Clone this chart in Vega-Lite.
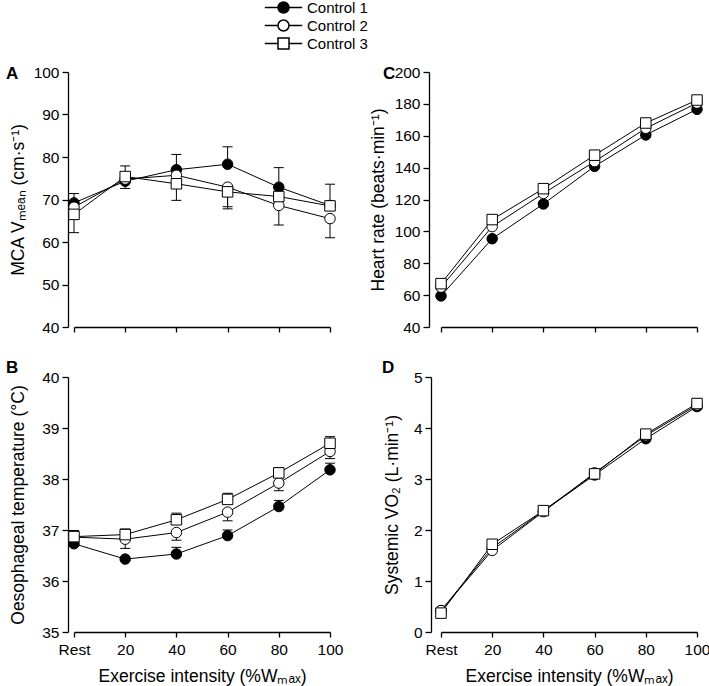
{
  "$schema": "https://vega.github.io/schema/vega-lite/v6.json",
  "background": "white",
  "padding": {"left": 6, "top": 0, "right": 5, "bottom": 5},
  "datasets": {
    "d": [
      {"p": "A", "s": "Control 1", "x": 0, "y": 69.2, "lo": 69.2, "hi": 71.4},
      {"p": "A", "s": "Control 1", "x": 20, "y": 74.3, "lo": 72.6, "hi": 74.3},
      {"p": "A", "s": "Control 1", "x": 40, "y": 77.0, "lo": 77.0, "hi": 80.6},
      {"p": "A", "s": "Control 1", "x": 60, "y": 78.3, "lo": 78.3, "hi": 82.4},
      {"p": "A", "s": "Control 1", "x": 80, "y": 72.9, "lo": 72.9, "hi": 77.5},
      {"p": "A", "s": "Control 1", "x": 100, "y": 68.6, "lo": 68.6, "hi": 73.6},
      {"p": "A", "s": "Control 2", "x": 0, "y": 68.2},
      {"p": "A", "s": "Control 2", "x": 20, "y": 74.8},
      {"p": "A", "s": "Control 2", "x": 40, "y": 75.7},
      {"p": "A", "s": "Control 2", "x": 60, "y": 72.9, "lo": 68.3, "hi": 72.9},
      {"p": "A", "s": "Control 2", "x": 80, "y": 68.6, "lo": 64.0, "hi": 68.6},
      {"p": "A", "s": "Control 2", "x": 100, "y": 65.5, "lo": 61.0, "hi": 65.5},
      {"p": "A", "s": "Control 3", "x": 0, "y": 66.5, "lo": 62.2, "hi": 66.5},
      {"p": "A", "s": "Control 3", "x": 20, "y": 75.4, "lo": 75.4, "hi": 77.9},
      {"p": "A", "s": "Control 3", "x": 40, "y": 73.7, "lo": 69.8, "hi": 73.7},
      {"p": "A", "s": "Control 3", "x": 60, "y": 71.8, "lo": 67.8, "hi": 71.8},
      {"p": "A", "s": "Control 3", "x": 80, "y": 70.7},
      {"p": "A", "s": "Control 3", "x": 100, "y": 68.5},

      {"p": "C", "s": "Control 1", "x": 0, "y": 59.5},
      {"p": "C", "s": "Control 1", "x": 20, "y": 95.4},
      {"p": "C", "s": "Control 1", "x": 40, "y": 117.2},
      {"p": "C", "s": "Control 1", "x": 60, "y": 140.8},
      {"p": "C", "s": "Control 1", "x": 80, "y": 160.5},
      {"p": "C", "s": "Control 1", "x": 100, "y": 176.6},
      {"p": "C", "s": "Control 2", "x": 0, "y": 65.0},
      {"p": "C", "s": "Control 2", "x": 20, "y": 103.0},
      {"p": "C", "s": "Control 2", "x": 40, "y": 123.8},
      {"p": "C", "s": "Control 2", "x": 60, "y": 143.8},
      {"p": "C", "s": "Control 2", "x": 80, "y": 164.7},
      {"p": "C", "s": "Control 2", "x": 100, "y": 180.5},
      {"p": "C", "s": "Control 3", "x": 0, "y": 67.2},
      {"p": "C", "s": "Control 3", "x": 20, "y": 107.4},
      {"p": "C", "s": "Control 3", "x": 40, "y": 126.8},
      {"p": "C", "s": "Control 3", "x": 60, "y": 147.8},
      {"p": "C", "s": "Control 3", "x": 80, "y": 168.0},
      {"p": "C", "s": "Control 3", "x": 100, "y": 182.4},

      {"p": "B", "s": "Control 1", "x": 0, "y": 36.73},
      {"p": "B", "s": "Control 1", "x": 20, "y": 36.43},
      {"p": "B", "s": "Control 1", "x": 40, "y": 36.53, "lo": 36.53, "hi": 36.66},
      {"p": "B", "s": "Control 1", "x": 60, "y": 36.89, "lo": 36.89, "hi": 37.0},
      {"p": "B", "s": "Control 1", "x": 80, "y": 37.46, "lo": 37.46, "hi": 37.58},
      {"p": "B", "s": "Control 1", "x": 100, "y": 38.18, "lo": 38.18, "hi": 38.31},
      {"p": "B", "s": "Control 2", "x": 0, "y": 36.86},
      {"p": "B", "s": "Control 2", "x": 20, "y": 36.82, "lo": 36.64, "hi": 36.82},
      {"p": "B", "s": "Control 2", "x": 40, "y": 36.95, "lo": 36.8, "hi": 36.95},
      {"p": "B", "s": "Control 2", "x": 60, "y": 37.35, "lo": 37.18, "hi": 37.35},
      {"p": "B", "s": "Control 2", "x": 80, "y": 37.92, "lo": 37.77, "hi": 37.92},
      {"p": "B", "s": "Control 2", "x": 100, "y": 38.54, "lo": 38.4, "hi": 38.54},
      {"p": "B", "s": "Control 3", "x": 0, "y": 36.87, "lo": 36.87, "hi": 36.99},
      {"p": "B", "s": "Control 3", "x": 20, "y": 36.91, "lo": 36.91, "hi": 37.02},
      {"p": "B", "s": "Control 3", "x": 40, "y": 37.2, "lo": 37.2, "hi": 37.33},
      {"p": "B", "s": "Control 3", "x": 60, "y": 37.6, "lo": 37.6, "hi": 37.72},
      {"p": "B", "s": "Control 3", "x": 80, "y": 38.12, "lo": 38.12, "hi": 38.22},
      {"p": "B", "s": "Control 3", "x": 100, "y": 38.7, "lo": 38.7, "hi": 38.83},

      {"p": "D", "s": "Control 1", "x": 0, "y": 0.42},
      {"p": "D", "s": "Control 1", "x": 20, "y": 1.65},
      {"p": "D", "s": "Control 1", "x": 40, "y": 2.37},
      {"p": "D", "s": "Control 1", "x": 60, "y": 3.08},
      {"p": "D", "s": "Control 1", "x": 80, "y": 3.79},
      {"p": "D", "s": "Control 1", "x": 100, "y": 4.42, "lo": 4.36, "hi": 4.42},
      {"p": "D", "s": "Control 2", "x": 0, "y": 0.42},
      {"p": "D", "s": "Control 2", "x": 20, "y": 1.60},
      {"p": "D", "s": "Control 2", "x": 40, "y": 2.36},
      {"p": "D", "s": "Control 2", "x": 60, "y": 3.12},
      {"p": "D", "s": "Control 2", "x": 80, "y": 3.85},
      {"p": "D", "s": "Control 2", "x": 100, "y": 4.45},
      {"p": "D", "s": "Control 3", "x": 0, "y": 0.37},
      {"p": "D", "s": "Control 3", "x": 20, "y": 1.72},
      {"p": "D", "s": "Control 3", "x": 40, "y": 2.38},
      {"p": "D", "s": "Control 3", "x": 60, "y": 3.10},
      {"p": "D", "s": "Control 3", "x": 80, "y": 3.88},
      {"p": "D", "s": "Control 3", "x": 100, "y": 4.48, "lo": 4.48, "hi": 4.57}
    ]
  },
  "config": {
    "font": "Liberation Sans",
    "view": {"stroke": null},
    "axis": {
      "grid": false, "domainColor": "black", "tickColor": "black", "labelColor": "black", "titleColor": "black",
      "labelFontSize": 15.5, "titleFontSize": 17.5, "titleFontWeight": "normal",
      "domainWidth": 1.3, "tickWidth": 1.3, "labelPadding": 3, "labelFlush": false, "labelOverlap": false, "labelBound": false
    },
    "axisY": {"tickSize": 6},
    "axisX": {"tickSize": 5},
    "title": {"fontSize": 17, "fontWeight": "bold", "color": "black", "anchor": "start", "frame": "group", "baseline": "middle", "offset": 0},
    "legend": {"labelFontSize": 15, "labelColor": "black"}
  },
  "columns": 2,
  "spacing": {"row": 50, "column": 111},
  "bounds": "flush",
  "concat": [
    {
      "width": 256, "height": 255,
      "data": {"name": "d"},
      "transform": [{"filter": "datum.p === 'A'"}],
      "title": {"text": "A", "dx": -68, "dy": 22},
      "encoding": {
        "x": {"field": "x", "type": "quantitative", "scale": {"domain": [0, 100], "nice": false}, "axis": {"values": [0, 20, 40, 60, 80, 100], "labels": false, "title": null}}
      },
      "layer": [
        {"mark": {"type": "line", "color": "black", "strokeWidth": 1},
         "encoding": {"y": {"field": "y", "type": "quantitative", "title": "MCA Vₘₑₐₙ (cm·s⁻¹)", "scale": {"domain": [40, 100], "nice": false, "zero": false}, "axis": {"values": [40, 50, 60, 70, 80, 90, 100], "offset": 6, "titleX": -50, "titleBaseline": "middle"}}, "detail": {"field": "s"}}},
        {"transform": [{"filter": "isValid(datum.lo)"}], "mark": {"type": "rule", "color": "black", "strokeWidth": 1},
         "encoding": {"y": {"field": "lo", "type": "quantitative", "title": "MCA Vₘₑₐₙ (cm·s⁻¹)", "scale": {"domain": [40, 100], "nice": false, "zero": false}, "axis": {"values": [40, 50, 60, 70, 80, 90, 100], "offset": 6, "titleX": -50, "titleBaseline": "middle"}}, "y2": {"field": "hi"}}},
        {"transform": [{"filter": "isValid(datum.hi)"}], "mark": {"type": "point", "shape": "stroke", "size": 100, "stroke": "black", "strokeWidth": 1, "opacity": 1, "filled": false},
         "encoding": {"y": {"field": "hi", "type": "quantitative", "title": "MCA Vₘₑₐₙ (cm·s⁻¹)", "scale": {"domain": [40, 100], "nice": false, "zero": false}, "axis": {"values": [40, 50, 60, 70, 80, 90, 100], "offset": 6, "titleX": -50, "titleBaseline": "middle"}}}},
        {"transform": [{"filter": "isValid(datum.lo)"}], "mark": {"type": "point", "shape": "stroke", "size": 100, "stroke": "black", "strokeWidth": 1, "opacity": 1, "filled": false},
         "encoding": {"y": {"field": "lo", "type": "quantitative", "title": "MCA Vₘₑₐₙ (cm·s⁻¹)", "scale": {"domain": [40, 100], "nice": false, "zero": false}, "axis": {"values": [40, 50, 60, 70, 80, 90, 100], "offset": 6, "titleX": -50, "titleBaseline": "middle"}}}},
        {"transform": [{"filter": "datum.s !== 'Control 3'"}], "mark": {"type": "point", "shape": "circle", "size": 110, "stroke": "black", "strokeWidth": 1, "opacity": 1, "filled": true},
         "encoding": {
           "y": {"field": "y", "type": "quantitative", "title": "MCA Vₘₑₐₙ (cm·s⁻¹)", "scale": {"domain": [40, 100], "nice": false, "zero": false}, "axis": {"values": [40, 50, 60, 70, 80, 90, 100], "offset": 6, "titleX": -50, "titleBaseline": "middle"}},
           "fill": {"field": "s", "type": "nominal", "title": null, "scale": {"domain": ["Control 1", "Control 2", "Control 3"], "range": ["black", "white", "white"]},
             "legend": {"title": null, "orient": "none", "legendX": 202, "legendY": -72, "padding": 0, "labelOffset": 16, "rowPadding": 1, "symbolSize": 121, "encode": {"symbols": {"stroke": {"value": "black"}, "strokeWidth": {"value": 1}}}}}
         }},
        {"transform": [{"filter": "datum.s === 'Control 3'"}], "mark": {"type": "point", "shape": "square", "size": 110, "stroke": "black", "strokeWidth": 1, "opacity": 1, "filled": true},
         "encoding": {
           "y": {"field": "y", "type": "quantitative", "title": "MCA Vₘₑₐₙ (cm·s⁻¹)", "scale": {"domain": [40, 100], "nice": false, "zero": false}, "axis": {"values": [40, 50, 60, 70, 80, 90, 100], "offset": 6, "titleX": -50, "titleBaseline": "middle"}},
           "fill": {"field": "s", "type": "nominal", "title": null, "scale": {"domain": ["Control 1", "Control 2", "Control 3"], "range": ["black", "white", "white"]},
             "legend": {"title": null, "orient": "none", "legendX": 202, "legendY": -72, "padding": 0, "labelOffset": 16, "rowPadding": 1, "symbolSize": 121, "encode": {"symbols": {"stroke": {"value": "black"}, "strokeWidth": {"value": 1}}}}}
         }},
        {"transform": [{"filter": "false"}], "mark": {"type": "point", "size": 121, "stroke": "black", "strokeWidth": 1, "opacity": 1, "filled": true},
         "encoding": {
           "y": {"field": "y", "type": "quantitative", "title": "MCA Vₘₑₐₙ (cm·s⁻¹)", "scale": {"domain": [40, 100], "nice": false, "zero": false}, "axis": {"values": [40, 50, 60, 70, 80, 90, 100], "offset": 6, "titleX": -50, "titleBaseline": "middle"}},
           "shape": {"field": "s", "type": "nominal", "title": null, "scale": {"domain": ["Control 1", "Control 2", "Control 3"], "range": ["M-3.4,0L-1,0M1,0L3.4,0M1,0A1,1,0,1,1,-1,0A1,1,0,1,1,1,0Z", "M-3.4,0L-1,0M1,0L3.4,0M1,0A1,1,0,1,1,-1,0A1,1,0,1,1,1,0Z", "M-3.4,0L-1,0M1,0L3.4,0M-1,-1L1,-1L1,1L-1,1Z"]},
             "legend": {"title": null, "orient": "none", "legendX": 202, "legendY": -72, "padding": 0, "labelOffset": 16, "rowPadding": 1, "symbolSize": 121, "encode": {"symbols": {"stroke": {"value": "black"}, "strokeWidth": {"value": 1}}}}},
           "fill": {"field": "s", "type": "nominal", "title": null, "scale": {"domain": ["Control 1", "Control 2", "Control 3"], "range": ["black", "white", "white"]},
             "legend": {"title": null, "orient": "none", "legendX": 202, "legendY": -72, "padding": 0, "labelOffset": 16, "rowPadding": 1, "symbolSize": 121, "encode": {"symbols": {"stroke": {"value": "black"}, "strokeWidth": {"value": 1}}}}}
         }}
      ]
    },
    {
      "width": 256, "height": 255,
      "data": {"name": "d"},
      "transform": [{"filter": "datum.p === 'C'"}],
      "title": {"text": "C", "dx": -58, "dy": 22},
      "encoding": {
        "x": {"field": "x", "type": "quantitative", "scale": {"domain": [0, 100], "nice": false}, "axis": {"values": [0, 20, 40, 60, 80, 100], "labels": false, "title": null}}
      },
      "layer": [
        {"mark": {"type": "line", "color": "black", "strokeWidth": 1},
         "encoding": {"y": {"field": "y", "type": "quantitative", "title": "Heart rate (beats·min⁻¹)", "scale": {"domain": [40, 200], "nice": false, "zero": false}, "axis": {"values": [40, 60, 80, 100, 120, 140, 160, 180, 200], "offset": 12, "titleX": -51, "titleBaseline": "middle"}}, "detail": {"field": "s"}}},
        {"transform": [{"filter": "datum.s !== 'Control 3'"}], "mark": {"type": "point", "shape": "circle", "size": 110, "stroke": "black", "strokeWidth": 1, "opacity": 1, "filled": true},
         "encoding": {
           "y": {"field": "y", "type": "quantitative", "title": "Heart rate (beats·min⁻¹)", "scale": {"domain": [40, 200], "nice": false, "zero": false}, "axis": {"values": [40, 60, 80, 100, 120, 140, 160, 180, 200], "offset": 12, "titleX": -51, "titleBaseline": "middle"}},
           "fill": {"field": "s", "type": "nominal", "title": null, "scale": {"domain": ["Control 1", "Control 2", "Control 3"], "range": ["black", "white", "white"]},
             "legend": {"title": null, "orient": "none", "legendX": 202, "legendY": -72, "padding": 0, "labelOffset": 16, "rowPadding": 1, "symbolSize": 121, "encode": {"symbols": {"stroke": {"value": "black"}, "strokeWidth": {"value": 1}}}}}
         }},
        {"transform": [{"filter": "datum.s === 'Control 3'"}], "mark": {"type": "point", "shape": "square", "size": 110, "stroke": "black", "strokeWidth": 1, "opacity": 1, "filled": true},
         "encoding": {
           "y": {"field": "y", "type": "quantitative", "title": "Heart rate (beats·min⁻¹)", "scale": {"domain": [40, 200], "nice": false, "zero": false}, "axis": {"values": [40, 60, 80, 100, 120, 140, 160, 180, 200], "offset": 12, "titleX": -51, "titleBaseline": "middle"}},
           "fill": {"field": "s", "type": "nominal", "title": null, "scale": {"domain": ["Control 1", "Control 2", "Control 3"], "range": ["black", "white", "white"]},
             "legend": {"title": null, "orient": "none", "legendX": 202, "legendY": -72, "padding": 0, "labelOffset": 16, "rowPadding": 1, "symbolSize": 121, "encode": {"symbols": {"stroke": {"value": "black"}, "strokeWidth": {"value": 1}}}}}
         }}
      ]
    },
    {
      "width": 256, "height": 255,
      "data": {"name": "d"},
      "transform": [{"filter": "datum.p === 'B'"}],
      "title": {"text": "B", "dx": -68, "dy": 11},
      "encoding": {
        "x": {"field": "x", "type": "quantitative", "scale": {"domain": [0, 100], "nice": false}, "axis": {"values": [0, 20, 40, 60, 80, 100], "labelExpr": "datum.value === 0 ? 'Rest' : datum.label", "title": "Exercise intensity (%Wₘₐₓ)", "labelPadding": 5, "titlePadding": 10}}
      },
      "layer": [
        {"mark": {"type": "line", "color": "black", "strokeWidth": 1},
         "encoding": {"y": {"field": "y", "type": "quantitative", "title": "Oesophageal temperature (°C)", "scale": {"domain": [35, 40], "nice": false, "zero": false}, "axis": {"values": [35, 36, 37, 38, 39, 40], "offset": 6, "titleX": -50, "titleBaseline": "middle"}}, "detail": {"field": "s"}}},
        {"transform": [{"filter": "isValid(datum.lo)"}], "mark": {"type": "rule", "color": "black", "strokeWidth": 1},
         "encoding": {"y": {"field": "lo", "type": "quantitative", "title": "Oesophageal temperature (°C)", "scale": {"domain": [35, 40], "nice": false, "zero": false}, "axis": {"values": [35, 36, 37, 38, 39, 40], "offset": 6, "titleX": -50, "titleBaseline": "middle"}}, "y2": {"field": "hi"}}},
        {"transform": [{"filter": "isValid(datum.hi)"}], "mark": {"type": "point", "shape": "stroke", "size": 100, "stroke": "black", "strokeWidth": 1, "opacity": 1, "filled": false},
         "encoding": {"y": {"field": "hi", "type": "quantitative", "title": "Oesophageal temperature (°C)", "scale": {"domain": [35, 40], "nice": false, "zero": false}, "axis": {"values": [35, 36, 37, 38, 39, 40], "offset": 6, "titleX": -50, "titleBaseline": "middle"}}}},
        {"transform": [{"filter": "isValid(datum.lo)"}], "mark": {"type": "point", "shape": "stroke", "size": 100, "stroke": "black", "strokeWidth": 1, "opacity": 1, "filled": false},
         "encoding": {"y": {"field": "lo", "type": "quantitative", "title": "Oesophageal temperature (°C)", "scale": {"domain": [35, 40], "nice": false, "zero": false}, "axis": {"values": [35, 36, 37, 38, 39, 40], "offset": 6, "titleX": -50, "titleBaseline": "middle"}}}},
        {"transform": [{"filter": "datum.s !== 'Control 3'"}], "mark": {"type": "point", "shape": "circle", "size": 110, "stroke": "black", "strokeWidth": 1, "opacity": 1, "filled": true},
         "encoding": {
           "y": {"field": "y", "type": "quantitative", "title": "Oesophageal temperature (°C)", "scale": {"domain": [35, 40], "nice": false, "zero": false}, "axis": {"values": [35, 36, 37, 38, 39, 40], "offset": 6, "titleX": -50, "titleBaseline": "middle"}},
           "fill": {"field": "s", "type": "nominal", "title": null, "scale": {"domain": ["Control 1", "Control 2", "Control 3"], "range": ["black", "white", "white"]},
             "legend": {"title": null, "orient": "none", "legendX": 202, "legendY": -72, "padding": 0, "labelOffset": 16, "rowPadding": 1, "symbolSize": 121, "encode": {"symbols": {"stroke": {"value": "black"}, "strokeWidth": {"value": 1}}}}}
         }},
        {"transform": [{"filter": "datum.s === 'Control 3'"}], "mark": {"type": "point", "shape": "square", "size": 110, "stroke": "black", "strokeWidth": 1, "opacity": 1, "filled": true},
         "encoding": {
           "y": {"field": "y", "type": "quantitative", "title": "Oesophageal temperature (°C)", "scale": {"domain": [35, 40], "nice": false, "zero": false}, "axis": {"values": [35, 36, 37, 38, 39, 40], "offset": 6, "titleX": -50, "titleBaseline": "middle"}},
           "fill": {"field": "s", "type": "nominal", "title": null, "scale": {"domain": ["Control 1", "Control 2", "Control 3"], "range": ["black", "white", "white"]},
             "legend": {"title": null, "orient": "none", "legendX": 202, "legendY": -72, "padding": 0, "labelOffset": 16, "rowPadding": 1, "symbolSize": 121, "encode": {"symbols": {"stroke": {"value": "black"}, "strokeWidth": {"value": 1}}}}}
         }}
      ]
    },
    {
      "width": 256, "height": 255,
      "data": {"name": "d"},
      "transform": [{"filter": "datum.p === 'D'"}],
      "title": {"text": "D", "dx": -59, "dy": 11},
      "encoding": {
        "x": {"field": "x", "type": "quantitative", "scale": {"domain": [0, 100], "nice": false}, "axis": {"values": [0, 20, 40, 60, 80, 100], "labelExpr": "datum.value === 0 ? 'Rest' : datum.label", "title": "Exercise intensity (%Wₘₐₓ)", "labelPadding": 5, "titlePadding": 10}}
      },
      "layer": [
        {"mark": {"type": "line", "color": "black", "strokeWidth": 1},
         "encoding": {"y": {"field": "y", "type": "quantitative", "title": "Systemic VO₂ (L·min⁻¹)", "scale": {"domain": [0, 5], "nice": false}, "axis": {"values": [0, 1, 2, 3, 4, 5], "offset": 10, "titleX": -39, "titleBaseline": "middle"}}, "detail": {"field": "s"}}},
        {"transform": [{"filter": "isValid(datum.lo)"}], "mark": {"type": "rule", "color": "black", "strokeWidth": 1},
         "encoding": {"y": {"field": "lo", "type": "quantitative", "title": "Systemic VO₂ (L·min⁻¹)", "scale": {"domain": [0, 5], "nice": false}, "axis": {"values": [0, 1, 2, 3, 4, 5], "offset": 10, "titleX": -39, "titleBaseline": "middle"}}, "y2": {"field": "hi"}}},
        {"transform": [{"filter": "isValid(datum.hi)"}], "mark": {"type": "point", "shape": "stroke", "size": 100, "stroke": "black", "strokeWidth": 1, "opacity": 1, "filled": false},
         "encoding": {"y": {"field": "hi", "type": "quantitative", "title": "Systemic VO₂ (L·min⁻¹)", "scale": {"domain": [0, 5], "nice": false}, "axis": {"values": [0, 1, 2, 3, 4, 5], "offset": 10, "titleX": -39, "titleBaseline": "middle"}}}},
        {"transform": [{"filter": "isValid(datum.lo)"}], "mark": {"type": "point", "shape": "stroke", "size": 100, "stroke": "black", "strokeWidth": 1, "opacity": 1, "filled": false},
         "encoding": {"y": {"field": "lo", "type": "quantitative", "title": "Systemic VO₂ (L·min⁻¹)", "scale": {"domain": [0, 5], "nice": false}, "axis": {"values": [0, 1, 2, 3, 4, 5], "offset": 10, "titleX": -39, "titleBaseline": "middle"}}}},
        {"transform": [{"filter": "datum.s !== 'Control 3'"}], "mark": {"type": "point", "shape": "circle", "size": 110, "stroke": "black", "strokeWidth": 1, "opacity": 1, "filled": true},
         "encoding": {
           "y": {"field": "y", "type": "quantitative", "title": "Systemic VO₂ (L·min⁻¹)", "scale": {"domain": [0, 5], "nice": false}, "axis": {"values": [0, 1, 2, 3, 4, 5], "offset": 10, "titleX": -39, "titleBaseline": "middle"}},
           "fill": {"field": "s", "type": "nominal", "title": null, "scale": {"domain": ["Control 1", "Control 2", "Control 3"], "range": ["black", "white", "white"]},
             "legend": {"title": null, "orient": "none", "legendX": 202, "legendY": -72, "padding": 0, "labelOffset": 16, "rowPadding": 1, "symbolSize": 121, "encode": {"symbols": {"stroke": {"value": "black"}, "strokeWidth": {"value": 1}}}}}
         }},
        {"transform": [{"filter": "datum.s === 'Control 3'"}], "mark": {"type": "point", "shape": "square", "size": 110, "stroke": "black", "strokeWidth": 1, "opacity": 1, "filled": true},
         "encoding": {
           "y": {"field": "y", "type": "quantitative", "title": "Systemic VO₂ (L·min⁻¹)", "scale": {"domain": [0, 5], "nice": false}, "axis": {"values": [0, 1, 2, 3, 4, 5], "offset": 10, "titleX": -39, "titleBaseline": "middle"}},
           "fill": {"field": "s", "type": "nominal", "title": null, "scale": {"domain": ["Control 1", "Control 2", "Control 3"], "range": ["black", "white", "white"]},
             "legend": {"title": null, "orient": "none", "legendX": 202, "legendY": -72, "padding": 0, "labelOffset": 16, "rowPadding": 1, "symbolSize": 121, "encode": {"symbols": {"stroke": {"value": "black"}, "strokeWidth": {"value": 1}}}}}
         }}
      ]
    }
  ]
}
